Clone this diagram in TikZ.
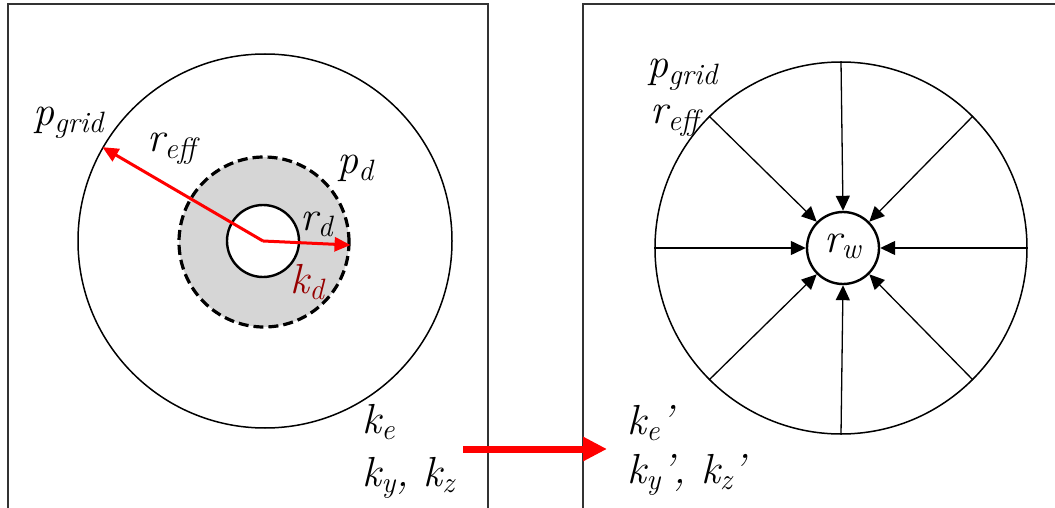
\documentclass[tikz,border=0pt]{standalone}
\usepackage{fontspec}
\usetikzlibrary{arrows.meta}
\definecolor{kdred}{RGB}{150,0,0}
\definecolor{zone}{RGB}{214,214,214}
\begin{document}
\begin{tikzpicture}[x=0.5pt, y=-0.5pt,
  frame/.style={draw=black!80, line width=0.75pt},
  ring/.style={draw, circle, inner sep=0, line width=0.75pt},
  hole/.style={draw, circle, inner sep=0, fill=white, line width=1.2pt},
  lbl/.style={font=\fontsize{21}{24}\selectfont\itshape, inner sep=0, anchor=base west},
  redarrow/.style={-{Triangle[length=8pt, width=7pt]}, red, line width=1.5pt},
  bigarrow/.style={-{Triangle[length=12pt, width=11.5pt]}, red, line width=3.5pt},
  spoke/.style={-{Triangle[length=7.5pt, width=7pt]}, line width=0.65pt}
]
\useasboundingbox (0,0) rectangle (1055,508);
% the two panels
\draw[frame] (8,508) -- (8,4) -- (488,4) -- (488,508);
\draw[frame] (583,508) -- (583,4) -- (1060,4);
% left panel: damaged zone round the well
\node[ring, minimum size=187pt] (grid) at (265,241) {};
\node[circle, draw, dash pattern=on 5pt off 2.5pt, line width=1.6pt,
  fill=zone, inner sep=0, minimum size=85pt] (pd) at (264,242) {};
\node[hole, minimum size=36pt] (rd) at (263,241) {};
\draw[redarrow] (rd.center) -- (grid.150.5);
\draw[redarrow] (rd.center) -- (pd.-2);
\node[lbl] (pgrid) at (33,126) {p\textsubscript{grid}};
\node[lbl] (reff) at (147,152) {r\textsubscript{eff}};
\node[lbl] (pdl) at (337,174) {p\textsubscript{d}};
\node[lbl] (rdl) at (300,230) {r\textsubscript{d}};
\node[lbl, text=kdred] (kd) at (290,293) {k\textsubscript{d}};
\node[lbl] (ke) at (362,433) {k\textsubscript{e}};
\node[lbl] (kyz) at (362,486) {k\textsubscript{y}, k\textsubscript{z}};
% equivalent permeability
\coordinate (from) at (463,449);
\coordinate (to) at (607,449);
\draw[bigarrow] (from) -- (to);
% right panel: radial inflow
\node[ring, minimum size=186pt] (wgrid) at (841,248) {};
\node[hole, minimum size=36pt] (well) at (843,248) {};
\foreach \a in {0,45,...,315}
  \draw[spoke] (wgrid.\a) -- (well.\a);
\node[font=\fontsize{21}{24}\selectfont\itshape, inner sep=0] (rw) at (843,246) {r\textsubscript{w}};
\node[lbl] (pgrid2) at (647,78) {p\textsubscript{grid}};
\node[lbl] (reff2) at (650,124) {r\textsubscript{eff}};
\node[lbl] (ke2) at (627,434) {k\textsubscript{e}’};
\node[lbl] (kyz2) at (627,483) {k\textsubscript{y}’, k\textsubscript{z}’};
\end{tikzpicture}
\end{document}
